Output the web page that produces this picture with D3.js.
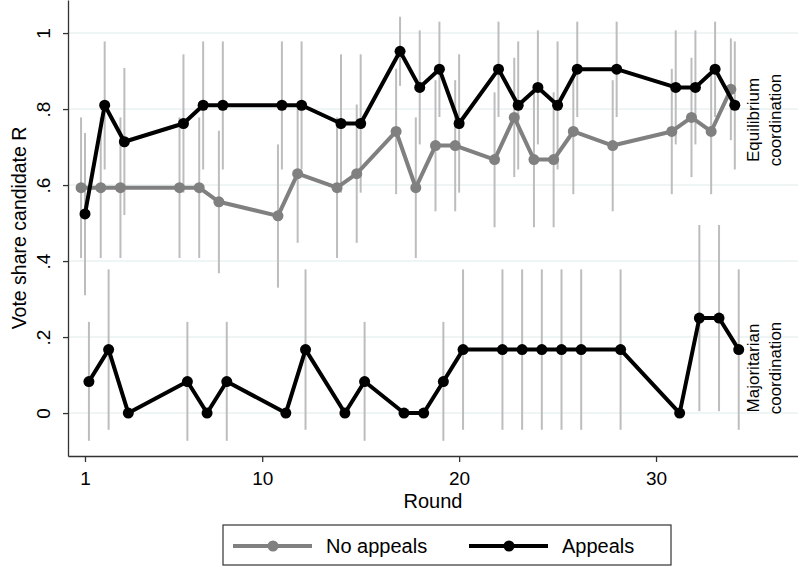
<!DOCTYPE html>
<html>
<head>
<meta charset="utf-8">
<script src="https://cdn.jsdelivr.net/npm/d3@7"></script>
<style>
  body { margin: 0; background: #fff; }
  text { font-family: "Liberation Sans", Arial, Helvetica, sans-serif; fill: #000; }
</style>
</head>
<body>
<div id="chart-area"></div>
<script>
// rounds played (same for every series)
var rounds = [1, 2, 3, 6, 7, 8, 11, 12, 14, 15, 17, 18, 19, 20, 22, 23, 24, 25, 26, 28, 31, 32, 33, 34];

// equilibrium coordination, no appeals
var noAppeals   = [.593, .593, .593, .593, .593, .556, .519, .630, .593, .630, .741, .593, .704, .704, .667, .778, .667, .667, .741, .704, .741, .778, .741, .852];
var noAppealsLo = [.408, .408, .408, .408, .408, .368, .330, .448, .408, .448, .576, .408, .531, .531, .489, .621, .489, .489, .576, .531, .576, .621, .576, .718];
var noAppealsHi = [.778, .778, .778, .778, .778, .743, .707, .812, .778, .812, .906, .778, .876, .876, .844, .935, .844, .844, .906, .876, .906, .935, .906, .986];

// equilibrium coordination, appeals
var appealsEq   = [.524, .810, .714, .762, .810, .810, .810, .810, .762, .762, .952, .857, .905, .762, .905, .810, .857, .810, .905, .905, .857, .857, .905, .810];
var appealsEqLo = [.310, .641, .521, .580, .641, .641, .641, .641, .580, .580, .861, .707, .779, .580, .779, .641, .707, .641, .779, .779, .707, .707, .779, .641];
var appealsEqHi = [.737, .978, .908, .944, .978, .978, .978, .978, .944, .944, 1.043, 1.007, 1.030, .944, 1.030, .978, 1.007, .978, 1.030, 1.030, 1.007, 1.007, 1.030, .978];

// majoritarian coordination, appeals
var appealsMaj   = [.083, .167, 0, .083, 0, .083, 0, .167, 0, .083, 0, 0, .083, .167, .167, .167, .167, .167, .167, .167, 0, .25, .25, .167];
var appealsMajLo = [-.073, -.044, 0, -.073, 0, -.073, 0, -.044, 0, -.073, 0, 0, -.073, -.044, -.044, -.044, -.044, -.044, -.044, -.044, 0, .005, .005, -.044];
var appealsMajHi = [.240, .378, 0, .240, 0, .240, 0, .378, 0, .240, 0, 0, .240, .378, .378, .378, .378, .378, .378, .378, 0, .495, .495, .378];

var yTicks = [0, .2, .4, .6, .8, 1];
var xTicks = [1, 10, 20, 30];

var width = 798, height = 566;

var svg = d3.select("#chart-area").append("svg")
    .attr("width", width)
    .attr("height", height);

var x = d3.scaleLinear().domain([0.137, 37.21]).range([68, 798]);
var y = d3.scaleLinear().domain([-0.113, 1.087]).range([456, 0]);

// gridlines
svg.selectAll(".grid")
    .data(yTicks)
    .enter().append("line")
    .attr("x1", 68).attr("x2", width)
    .attr("y1", function(d) { return y(d); })
    .attr("y2", function(d) { return y(d); })
    .attr("stroke", "#eaf0f2")
    .attr("stroke-width", 1.5);

function makeSeries(vals, lo, hi, shift) {
    return rounds.map(function(r, i) {
        return { r: r + shift, v: vals[i], lo: lo[i], hi: hi[i] };
    });
}

var grey = makeSeries(noAppeals, noAppealsLo, noAppealsHi, -0.2);
var blackEq = makeSeries(appealsEq, appealsEqLo, appealsEqHi, 0);
var blackMaj = makeSeries(appealsMaj, appealsMajLo, appealsMajHi, 0.2);

// confidence intervals
[grey, blackEq, blackMaj].forEach(function(s) {
    svg.append("g").selectAll("line")
        .data(s.filter(function(d) { return d.hi > d.lo; }))
        .enter().append("line")
        .attr("x1", function(d) { return x(d.r); })
        .attr("x2", function(d) { return x(d.r); })
        .attr("y1", function(d) { return y(d.lo); })
        .attr("y2", function(d) { return y(d.hi); })
        .attr("stroke", "#bdbdbd")
        .attr("stroke-width", 2);
});

var line = d3.line()
    .x(function(d) { return x(d.r); })
    .y(function(d) { return y(d.v); });

function drawSeries(s, col) {
    svg.append("path")
        .datum(s)
        .attr("d", line)
        .attr("fill", "none")
        .attr("stroke", col)
        .attr("stroke-width", 4)
        .attr("stroke-linejoin", "round");
    svg.append("g").selectAll("circle")
        .data(s)
        .enter().append("circle")
        .attr("cx", function(d) { return x(d.r); })
        .attr("cy", function(d) { return y(d.v); })
        .attr("r", 5.5)
        .attr("fill", col);
}

drawSeries(grey, "#808080");
drawSeries(blackEq, "#000");
drawSeries(blackMaj, "#000");

// axes
var yAxis = svg.append("g")
    .attr("transform", "translate(68,0)")
    .call(d3.axisLeft(y).tickValues(yTicks).tickSize(5).tickSizeOuter(0)
        .tickFormat(function(d) { return d == 0 || d == 1 ? String(d) : d3.format(".1f")(d).replace("0.", "."); }));
yAxis.selectAll("text")
    .attr("x", null).attr("dy", null)
    .attr("transform", "translate(-18,0) rotate(-90)")
    .attr("text-anchor", "middle")
    .style("font-size", "19px");

var xAxis = svg.append("g")
    .attr("transform", "translate(0,456)")
    .call(d3.axisBottom(x).tickValues(xTicks).tickSize(6).tickSizeOuter(0));
xAxis.selectAll("text")
    .attr("y", 29).attr("dy", null)
    .style("font-size", "19px");

[yAxis, xAxis].forEach(function(a) {
    a.select(".domain").attr("stroke", "#333").attr("stroke-width", 1.3);
    a.selectAll(".tick line").attr("stroke", "#333").attr("stroke-width", 1.3);
    a.selectAll("text").attr("fill", "#000").style("font-family", "'Liberation Sans', Arial, sans-serif");
});

// titles
svg.append("text")
    .attr("transform", "translate(26,228) rotate(-90)")
    .attr("text-anchor", "middle")
    .style("font-size", "19.5px")
    .text("Vote share candidate R");

svg.append("text")
    .attr("x", 433).attr("y", 508)
    .attr("text-anchor", "middle")
    .style("font-size", "20px")
    .text("Round");

// panel labels
var panelLabels = [["Equilibrium", "coordination", 120], ["Majoritarian", "coordination", 368]];
panelLabels.forEach(function(p) {
    svg.append("text")
        .attr("transform", "translate(759," + p[2] + ") rotate(-90)")
        .attr("text-anchor", "middle")
        .style("font-size", "17px")
        .text(p[0]);
    svg.append("text")
        .attr("transform", "translate(781," + p[2] + ") rotate(-90)")
        .attr("text-anchor", "middle")
        .style("font-size", "17px")
        .text(p[1]);
});

// legend
var legend = svg.append("g");
legend.append("rect")
    .attr("x", 223).attr("y", 525)
    .attr("width", 448).attr("height", 40)
    .attr("fill", "#fff")
    .attr("stroke", "#333")
    .attr("stroke-width", 1.2);

var legendItems = [["No appeals", "#808080", 233], ["Appeals", "#000", 469]];
legendItems.forEach(function(it) {
    legend.append("line")
        .attr("x1", it[2]).attr("x2", it[2] + 79)
        .attr("y1", 546).attr("y2", 546)
        .attr("stroke", it[1]).attr("stroke-width", 4);
    legend.append("circle")
        .attr("cx", it[2] + 40).attr("cy", 546)
        .attr("r", 5.5).attr("fill", it[1]);
    legend.append("text")
        .attr("x", it[2] + 93).attr("y", 553)
        .style("font-size", "20px")
        .text(it[0]);
});
</script>
</body>
</html>
